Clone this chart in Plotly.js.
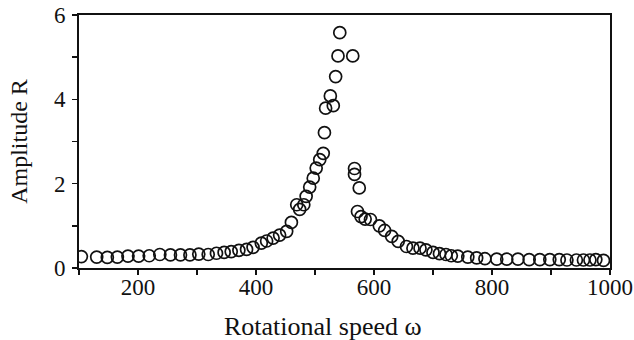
<!DOCTYPE html>
<html>
<head>
<meta charset="utf-8">
<script src="https://cdn.plot.ly/plotly-3.0.1.min.js"></script>
<style>html,body{margin:0;padding:0;background:#fff;}#chart{width:634px;height:340px;}</style>
</head>
<body>
<div id="chart"></div>
<script>
var omega = [104,130,148,165,183,201,219,237,255,272,288,303,319,333,346,358,371,384,395,409,418,429,440,452,460,469,474,481,485,491,497,502,508,514,516,518,526,531,535,539,542,564,567,567,572,575,578,585,594,609,618,630,641,655,666,678,688,700,711,722,731,742,759,774,788,808,825,844,863,881,898,914,927,943,955,966,976,989];
var amplitude = [0.27,0.26,0.25,0.26,0.28,0.28,0.29,0.32,0.31,0.31,0.31,0.33,0.32,0.35,0.37,0.39,0.42,0.44,0.49,0.59,0.64,0.71,0.78,0.87,1.08,1.50,1.39,1.50,1.70,1.92,2.13,2.37,2.57,2.72,3.21,3.79,4.08,3.85,4.54,5.03,5.58,5.03,2.36,2.22,1.34,1.90,1.22,1.16,1.15,1.00,0.89,0.75,0.63,0.51,0.47,0.47,0.43,0.37,0.34,0.32,0.29,0.28,0.26,0.24,0.22,0.21,0.21,0.21,0.20,0.20,0.20,0.20,0.19,0.19,0.19,0.19,0.20,0.18];
var xTicks = [200, 400, 600, 800, 1000];
var yTicks = [0, 2, 4, 6];
var xTitle = "Rotational speed ω";
var yTitle = "Amplitude R";

var font = "Liberation Serif";
var trace = {
  x: omega, y: amplitude, type: "scatter", mode: "markers",
  marker: {symbol: "circle-open", size: 12, color: "#111", line: {width: 1.7, color: "#111"}},
  hoverinfo: "none"
};
var layout = {
  width: 634, height: 340,
  margin: {l: 79, r: 24, t: 15, b: 72},
  paper_bgcolor: "#fff", plot_bgcolor: "#fff",
  showlegend: false,
  font: {family: font, color: "#111"},
  xaxis: {
    range: [100, 1000], tickvals: xTicks, ticktext: xTicks.map(String),
    ticks: "outside", ticklen: 5, tickwidth: 1.5, tickcolor: "#111",
    minor: {dtick: 100, ticks: "outside", ticklen: 5, tickwidth: 1.5, tickcolor: "#111"},
    showgrid: false, zeroline: false, showline: true, linecolor: "#111", linewidth: 1.8, mirror: true,
    tickfont: {family: font, size: 23, color: "#111"}, ticklabelstandoff: -7
  },
  yaxis: {
    range: [0, 6], tickvals: yTicks, ticktext: yTicks.map(String),
    ticks: "outside", ticklen: 5, tickwidth: 1.5, tickcolor: "#111",
    minor: {dtick: 1, ticks: "outside", ticklen: 5, tickwidth: 1.5, tickcolor: "#111"},
    showgrid: false, zeroline: false, showline: true, linecolor: "#111", linewidth: 1.8, mirror: true,
    tickfont: {family: font, size: 23, color: "#111"}, ticklabelstandoff: 2,
    title: {text: yTitle, font: {family: font, size: 24, color: "#111"}, standoff: 20}
  },
  annotations: [{
    text: xTitle, xref: "paper", yref: "paper", x: 0.4595, y: -0.232,
    xanchor: "center", yanchor: "middle", showarrow: false,
    font: {family: font, size: 26, color: "#111"}
  }]
};
Plotly.newPlot("chart", [trace], layout, {staticPlot: true, displayModeBar: false});
</script>
</body>
</html>
